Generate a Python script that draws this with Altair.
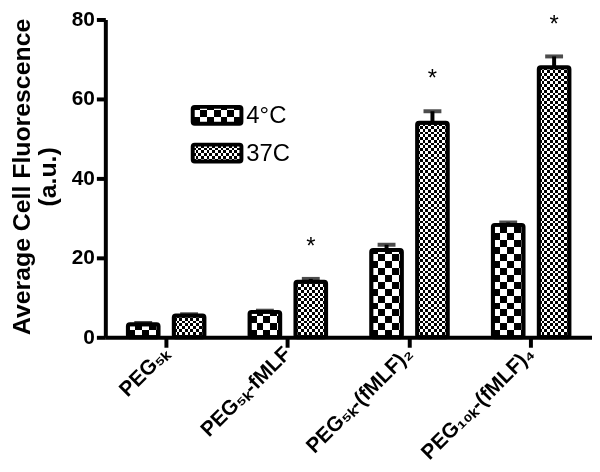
import math
import altair as alt
import pandas as pd

# ---------------- data ----------------
categories = ["PEG₅ₖ", "PEG₅ₖ-fMLF", "PEG₅ₖ-(fMLF)₂", "PEG₁₀ₖ-(fMLF)₄"]
series = ["4°C", "37C"]
mean_4c = [3.3, 6.4, 22.0, 28.3]
err_4c = [0.3, 0.3, 1.3, 0.6]
mean_37c = [5.5, 14.0, 54.0, 68.0]
err_37c = [0.3, 0.7, 2.9, 2.7]
sig_4c = [False, False, False, False]
sig_37c = [False, True, True, True]
y_ticks = [0, 20, 40, 60, 80]

rows = []
for i, c in enumerate(categories):
    rows.append({"cat": c, "series": series[0], "mean": mean_4c[i], "err": err_4c[i], "sig": sig_4c[i]})
    rows.append({"cat": c, "series": series[1], "mean": mean_37c[i], "err": err_37c[i], "sig": sig_37c[i]})
df = pd.DataFrame(rows)
df["top"] = df["mean"] + df["err"]

# ---------------- layout / style ----------------
PLOT_W = 490
PLOT_H = 320
Y_MAX = 80
FONT = "Liberation Sans"
PAD_IN = 0.332
PAD_OUT = 0.4915
step = PLOT_W / len(categories)
sub_step = step / (2 - PAD_IN + 2 * PAD_OUT)
bar_w = sub_step * (1 - PAD_IN)
CELL = {series[0]: 7.0, series[1]: 2.8}


def stripes(cell, length, along_x):
    n = int(math.ceil(length / cell))
    stops = []
    for k in range(n):
        col = "#000000" if k % 2 == 0 else "#ffffff"
        a = min(k * cell / length, 1.0)
        b = min((k + 1) * cell / length, 1.0)
        stops.append({"offset": a, "color": col})
        stops.append({"offset": b, "color": col})
    if along_x:
        return {"gradient": "linear", "x1": 0, "y1": 0, "x2": 1, "y2": 0, "stops": stops}
    return {"gradient": "linear", "x1": 0, "y1": 1, "x2": 0, "y2": 0, "stops": stops}


x_enc = alt.X(
    "cat:N",
    sort=categories,
    scale=alt.Scale(domain=categories, paddingInner=0, paddingOuter=0),
    axis=alt.Axis(
        title=None,
        labelAngle=-45,
        labelAlign="right",
        labelBaseline="middle",
        labelFont=FONT,
        labelFontSize=21,
        labelFontWeight="bold",
        labelColor="black",
        labelPadding=3,
        tickSize=10,
        tickWidth=4,
        tickColor="black",
        domainWidth=4,
        domainColor="black",
        zindex=1,
        grid=False,
    ),
)
xo_enc = alt.XOffset(
    "series:N",
    sort=series,
    scale=alt.Scale(domain=series, paddingInner=PAD_IN, paddingOuter=PAD_OUT),
)
y_scale = alt.Scale(domain=[0, Y_MAX], nice=False, zero=True)
y_axis = alt.Axis(
    values=y_ticks,
    grid=False,
    tickSize=9,
    tickWidth=4,
    tickColor="black",
    domainWidth=4,
    domainColor="black",
    labelFont=FONT,
    labelFontSize=21,
    labelFontWeight="bold",
    labelColor="black",
    labelPadding=2,
    title=["Average Cell Fluorescence", "(a.u.)"],
    titleFont=FONT,
    titleFontSize=25,
    titleFontWeight="bold",
    titleColor="black",
    titleAngle=270,
    titleAlign="center",
    titleBaseline="middle",
    titleLineHeight=26,
    titleX=-84,
    titleY=PLOT_H / 2 - 2,
    zindex=1,
)

base = alt.Chart(df)
layers = []

# layer A: vertical stripes of each series' bars
for s in series:
    layers.append(
        base.transform_filter(alt.datum.series == s)
        .mark_bar(fill=stripes(CELL[s], bar_w, True), strokeWidth=0)
        .encode(x=x_enc, xOffset=xo_enc, y=alt.Y("mean:Q", scale=y_scale, axis=y_axis))
    )
# layer B: horizontal stripes over full height, blended by difference -> checkerboard
for s in series:
    layers.append(
        base.transform_filter(alt.datum.series == s)
        .mark_bar(fill=stripes(CELL[s], PLOT_H, False), strokeWidth=0, blend="difference")
        .encode(x=x_enc, xOffset=xo_enc, y=alt.Y(datum=Y_MAX, scale=y_scale), y2=alt.Y2(datum=0))
    )
# layer C: white cover above each bar
layers.append(
    base.mark_bar(fill="white", stroke="white", strokeWidth=2)
    .encode(x=x_enc, xOffset=xo_enc, y=alt.Y("mean:Q", scale=y_scale), y2=alt.Y2(datum=Y_MAX))
)
# layer D: bar outlines
layers.append(
    base.mark_bar(fillOpacity=0, stroke="black", strokeWidth=4, cornerRadius=2)
    .encode(x=x_enc, xOffset=xo_enc, y=alt.Y("mean:Q", scale=y_scale))
)
# error bars
layers.append(
    base.mark_rule(color="black", strokeWidth=4)
    .encode(x=x_enc, xOffset=xo_enc, y=alt.Y("mean:Q", scale=y_scale), y2="top:Q")
)
layers.append(
    base.mark_tick(color="black", thickness=4, size=18, orient="horizontal")
    .encode(x=x_enc, xOffset=xo_enc, y=alt.Y("top:Q", scale=y_scale))
)
# significance asterisks
layers.append(
    base.transform_filter(alt.datum.sig)
    .mark_text(text="*", font=FONT, fontSize=24, color="black", dy=-25, baseline="alphabetic")
    .encode(x=x_enc, xOffset=xo_enc, y=alt.Y("top:Q", scale=y_scale))
)

# ---------------- manual legend ----------------
LEG_X0, LEG_X1 = 88, 137
LEG_Y = {series[0]: (88, 105), series[1]: (126, 143)}
for s in series:
    y0, y1 = LEG_Y[s]
    ldata = alt.Data(values=[{"series": s}])
    enc = dict(x=alt.value(LEG_X0), x2=alt.value(LEG_X1), y=alt.value(y0), y2=alt.value(y1))
    layers.append(alt.Chart(ldata).mark_rect(fill=stripes(CELL[s], LEG_X1 - LEG_X0, True), strokeWidth=0).encode(**enc))
    layers.append(alt.Chart(ldata).mark_rect(fill=stripes(CELL[s], y1 - y0, False), strokeWidth=0, blend="difference").encode(**enc))
    layers.append(alt.Chart(ldata).mark_rect(fillOpacity=0, stroke="black", strokeWidth=4, cornerRadius=2).encode(**enc))
    layers.append(
        alt.Chart(ldata)
        .mark_text(font=FONT, fontSize=24, color="black", align="left", baseline="middle")
        .encode(x=alt.value(LEG_X1 + 5), y=alt.value((y0 + y1) / 2 + 1), text="series:N")
    )

chart = (
    alt.layer(*layers)
    .properties(
        width=PLOT_W,
        height=PLOT_H,
        autosize=alt.AutoSizeParams(type="none"),
        padding={"left": 98, "top": 10, "right": 0, "bottom": 126},
        background="white",
    )
    .configure_view(stroke=None)
)

chart.save("out.html", embed_options={"renderer": "svg", "actions": False})
